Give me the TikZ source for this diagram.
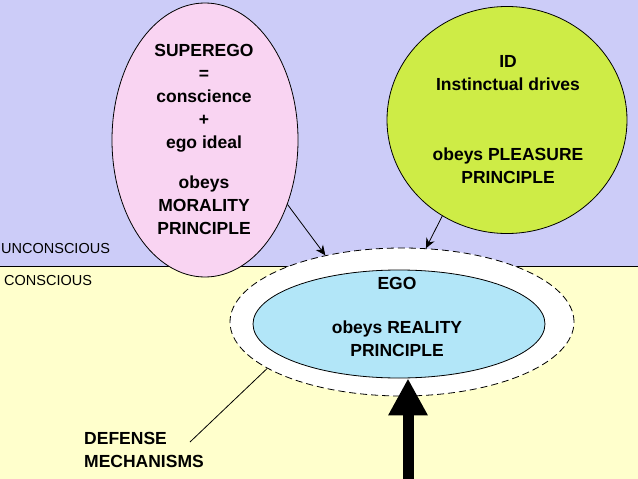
\documentclass[tikz,border=0pt]{standalone}
\usepackage{fontspec}
\setmainfont{Liberation Sans}
\usetikzlibrary{shapes.geometric,arrows.meta}
\definecolor{unconsc}{RGB}{204,204,248}
\definecolor{consc}{RGB}{255,255,204}
\definecolor{superpink}{RGB}{249,212,242}
\definecolor{idgreen}{RGB}{206,236,70}
\definecolor{egoblue}{RGB}{178,230,248}
\tikzset{
  psyche/.style={ellipse, draw=black, thick, inner sep=0pt},
  txt/.style={font=\fontsize{17.5}{23}\selectfont\bfseries, align=center, inner sep=0pt},
  zone/.style={font=\fontsize{14.5}{17}\selectfont, anchor=west, inner sep=0pt},
}
\begin{document}
\begin{tikzpicture}[x=1pt,y=-1pt]
\useasboundingbox (0,0) rectangle (638,479);
\fill[unconsc] (0,0) rectangle (638,266);
\fill[consc] (0,266) rectangle (638,479);
\draw[thick, black] (0,266) -- (638,266);
\node[zone] (unc) at (1,249) {UNCONSCIOUS};
\node[zone] (con) at (4,281) {CONSCIOUS};
% the three parts
\node[psyche, fill=superpink, minimum width=186pt, minimum height=274pt] (superego) at (205,140) {};
\node[psyche, fill=idgreen, minimum width=240pt, minimum height=227pt] (id) at (507,120) {};
\node[ellipse, draw=black, thick, dash pattern=on 7pt off 4pt, fill=white, minimum width=344pt, minimum height=148pt] (ring) at (402,322) {};
\node[psyche, fill=egoblue, minimum width=292pt, minimum height=108pt] (ego) at (399,324) {};
\node[txt] (supertxt) at (204,98) {SUPEREGO\\=\\conscience\\+\\ego ideal};
\node[txt] (moral) at (204,205.5) {obeys\\MORALITY\\PRINCIPLE};
\node[txt] (idtxt) at (508,73.5) {ID\\Instinctual drives};
\node[txt] (pleasure) at (508,166) {obeys PLEASURE\\PRINCIPLE};
\node[txt] (egotxt) at (397,283) {EGO};
\node[txt] (reality) at (397,338.5) {obeys REALITY\\PRINCIPLE};
% arrows into the ego
\draw[thick, -{Stealth[length=10pt,width=9pt]}] (superego.-38) -- (ring.139);
\draw[thick, -{Stealth[length=10pt,width=9pt]}] (id.236) -- (ring.72);
\coordinate (foot) at (408,479);
\draw[line width=11pt, -{Triangle[length=37pt,width=37pt]}] (foot) -- (foot |- ego.south);
% defense label
\node[txt, align=left, anchor=west] (defense) at (84,450) {DEFENSE\\MECHANISMS};
\coordinate (dtail) at (190,442);
\draw[thick] (dtail) -- (ring.199);
\end{tikzpicture}
\end{document}
